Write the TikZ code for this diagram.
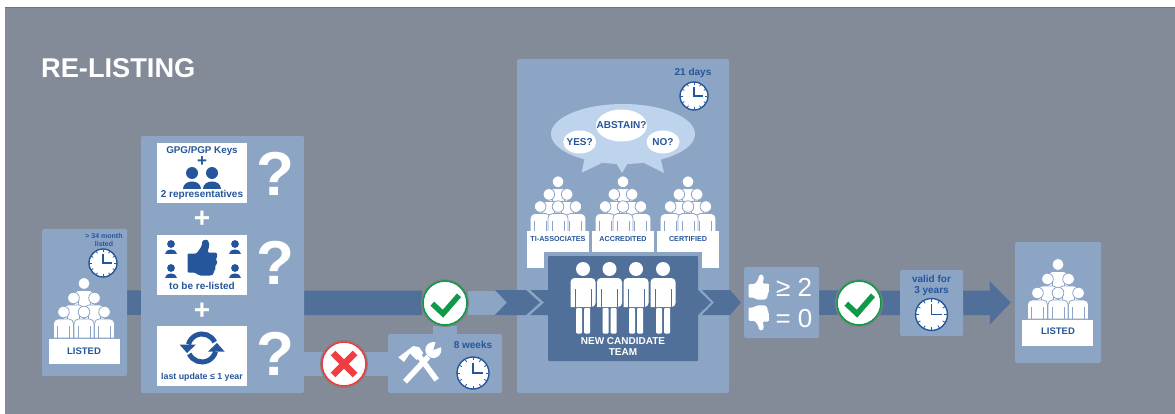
\documentclass[tikz,border=0pt]{standalone}
\usepackage{fontspec}
\setmainfont{Liberation Sans}
\usetikzlibrary{backgrounds}
\usetikzlibrary{shapes.geometric}
\usetikzlibrary{arrows.meta}
\definecolor{bggray}{HTML}{838A98}
\definecolor{panelblue}{HTML}{8CA5C5}
\definecolor{barblue}{HTML}{507099}
\definecolor{inkblue}{HTML}{25569B}
\definecolor{bubbleblue}{HTML}{BED3EC}
\definecolor{okgreen}{HTML}{0F9A4A}
\definecolor{nored}{HTML}{EF3E42}
\tikzset{
  panel/.style={fill=panelblue,rounded corners=1.5,inner sep=0},
  whitebox/.style={fill=white,inner sep=0},
  lbl/.style={text=inkblue,inner sep=0,align=center,font=\bfseries\fontsize{#1}{#1}\selectfont},
  wlbl/.style={text=white,inner sep=0,align=center,font=\bfseries\fontsize{#1}{#1}\selectfont},
  bigtxt/.style={text=white,inner sep=0,font=\fontsize{26}{26}\selectfont},
  badge/.style={circle,fill=white,draw=#1,line width=1.6,minimum size=44,inner sep=0,preaction={draw=gray!80!bggray,line width=4}},
  darkbar/.style={draw=barblue,line width=24.5},
  lightbar/.style={draw=panelblue,line width=24.5},
  clock/.pic={
    \filldraw[fill=white,draw=inkblue,line width=1.4] (0,0) circle[radius=10];
    \foreach \a in {0,30,...,330} \draw[inkblue,line width=.8] (\a:8) -- (\a:9.6);
    \draw[inkblue,line width=1.3] (0,-6.5) -- (0,0) -- (6.5,0);
  },
  person/.pic={
    \filldraw[fill=white,draw=panelblue,line width=.8] (0,0) circle[radius=5.8];
    \filldraw[fill=white,draw=panelblue,line width=.8] (-10,26) [rounded corners=4.5] -- (-10,7) -- (10,7) [sharp corners] -- (10,26) -- cycle;
    \draw[panelblue,line width=.8] (-6,14) -- (-6,26) (6,14) -- (6,26);
  },
  crowd/.pic={
    \pic at (0,5.5) {person};
    \pic at (-10.5,20) {person};
    \pic at (10.5,20) {person};
    \pic at (-20.5,34) {person};
    \pic at (20.5,34) {person};
    \pic at (0,34) {person};
  },
  teammate/.pic={
    \fill[white] (0,0) circle[radius=7];
    \fill[white] (-12.5,38) [rounded corners=4] -- (-12.5,9) -- (12.5,9) -- (12.5,38) [sharp corners] -- cycle;
    \draw[barblue,line width=1] (-8,20) -- (-8,38.5) (8,20) -- (8,38.5);
    \fill[white,rounded corners=1] (-7,39) rectangle (-1,64.5);
    \fill[white,rounded corners=1] (1,39) rectangle (7,64.5);
  },
  bust/.pic={
    \fill[inkblue] (0,0) circle[radius=6];
    \fill[inkblue] (-9,16) .. controls (-9,6) and (9,6) .. (9,16) -- cycle;
  },
  thumb/.pic={
    \fill[pic actions,rounded corners=1.2] (-15,-4) -- (-6,-4) -- (-1,-11) -- (0,-17) -- (5,-18) -- (7,-13) -- (5,-5) -- (14,-5) -- (15,-1) -- (13,2) -- (15,4) -- (13.5,8) -- (12,9) -- (13.5,11) -- (11,14) -- (11.5,16) -- (9,18) -- (-3,18) -- (-8,15) -- (-15,15) -- cycle;
  },
  refresh/.pic={
    \foreach \r in {0,180} {
      \begin{scope}[rotate=\r]
        \draw[inkblue,line width=5] (-25:14) arc (-25:-165:14);
        \fill[inkblue] (-22.5,-3.5) -- (-6,-3.5) -- (-15,5) -- cycle;
      \end{scope}
    }
  },
  tick/.pic={
    \draw[okgreen,line width=5.5] (-12.7,.7) -- (-2,10.7) -- (14,-7.7);
  },
  cross/.pic={
    \draw[nored,line width=6.5] (-11,-11) -- (11,11) (-11,11) -- (11,-11);
  },
  tools/.pic={
    \draw[white,line width=5.5] (-1.7,-9) -- (16.7,16);
    \fill[white] (-21.7,-6.7) -- (-6.7,-18) -- (-.7,-16.7) -- (3.3,-10.7) -- (-3.3,-4) -- (-10,-10.7) -- (-16,-2) -- cycle;
    \draw[white,line width=5.5] (-15,17.7) -- (8.3,-7.3);
    \fill[white] (13.3,-14) circle[radius=8];
    \fill[panelblue] (13.3,-14) -- (24,-18) -- (17,-26) -- cycle;
  },
}

\begin{document}
\begin{tikzpicture}[x=1pt,y=-1pt]
  \useasboundingbox (0,0) rectangle (1175,414);

  \node[panel,minimum width=85,minimum height=147] (listedA) at (84.5,302.5) {};
  \node[panel,minimum width=163,minimum height=257] (checks) at (222.5,264.5) {};
  \node[panel,minimum width=212,minimum height=334] (vote) at (623,226) {};
  \node[panel,minimum width=114,minimum height=59] (repair) at (445,363.5) {};
  \node[panel,minimum width=75,minimum height=71] (result) at (781.5,302.5) {};
  \node[panel,minimum width=63,minimum height=66] (valid) at (931.5,303) {};
  \node[panel,minimum width=86,minimum height=121] (listedB) at (1058,302.5) {};
  \node[badge=okgreen] (okA) at (445,303) {};
  \node[badge=nored] (noA) at (344,364) {};
  \node[badge=okgreen] (okB) at (859,303) {};
  \coordinate (tipA) at (495,303);

  \begin{scope}[on background layer]
    \fill[bggray] (5,7) rectangle (1175,414);
    \draw[barblue!70!bggray] (5,7) -- (1175,7);
    \draw[darkbar] (listedA) -- (okA);
    \draw[lightbar] (okA) -- (tipA);
    \draw[lightbar] (noA -| checks.east) -- (noA -| repair.west);
    \draw[lightbar] (repair) -- (okA);
    \draw[darkbar] (result) -- (valid);
    \draw[darkbar,-{Triangle[length=21,width=42]},shorten >=4] (valid) -- (listedB);
  \end{scope}
  \fill[panelblue] (495,290) -- (507,302.5) -- (495,315) -- cycle;

  \node[wlbl=27.2,anchor=west] (title) at (41,68) {RE-LISTING};

  \pic at (84,278) {crowd};
  \node[whitebox,minimum width=71,minimum height=25] (listedAbox) at (84.5,351.5) {};
  \node[lbl=9.5] (listedAtxt) at (84,351) {LISTED};
  \node[lbl=7] (monthtxt) at (104,239.5) {> 34 month\\[1pt]listed};
  \pic[scale=1.4] at (103,263) {clock};

  \node[whitebox,minimum width=90,minimum height=60] (keybox) at (202,173) {};
  \node[whitebox,minimum width=90,minimum height=60] (upbox) at (202,265) {};
  \node[whitebox,minimum width=90,minimum height=60] (lastbox) at (202,356) {};
  \node[lbl=9.8] (keytxt) at (202,150.5) {GPG/PGP Keys};
  \node[lbl=17] (keyplus) at (202,162) {+};
  \pic at (192,173) {bust};
  \pic at (212,173) {bust};
  \node[lbl=10] (reptxt) at (202,195) {2 representatives};
  \foreach \x in {171,235} {
    \pic[scale=.65] at (\x,244) {bust};
    \pic[scale=.65] at (\x,268) {bust};
  }
  \pic[fill=inkblue] at (202.5,257.5) {thumb};
  \node[lbl=10] (uptxt) at (202,285.5) {to be re-listed};
  \pic at (202,348) {refresh};
  \node[lbl=8.8] (lasttxt) at (202,377) {last update ≤ 1 year};
  \node[wlbl=62] (askA) at (275,174) {?};
  \node[wlbl=62] (askB) at (275,263) {?};
  \node[wlbl=62] (askC) at (275,354) {?};
  \node[wlbl=28] (plusA) at (202,219) {+};
  \node[wlbl=28] (plusB) at (202,311) {+};

  \pic at (okA) {tick};
  \pic at (noA) {cross};
  \pic at (420,364) {tools};
  \node[lbl=10] (weekstxt) at (473,345) {8 weeks};
  \pic[scale=1.6] at (473,373) {clock};

  \node[lbl=10] (daystxt) at (693,73) {21 days};
  \pic[scale=1.4] at (694,96) {clock};
  \node[ellipse,fill=bubbleblue,minimum width=144,minimum height=60,inner sep=0] (bubble) at (623,134) {};
  \fill[bubbleblue] (585,156) -- (581.7,172.7) -- (602,163) -- cycle;
  \fill[bubbleblue] (616,163) -- (622,173) -- (628,163) -- cycle;
  \fill[bubbleblue] (644,163) -- (664,173) -- (660,156) -- cycle;
  \node[ellipse,fill=white,minimum width=33,minimum height=23,inner sep=0] (yesell) at (579.7,142) {};
  \node[ellipse,fill=white,minimum width=51,minimum height=32,inner sep=0] (absell) at (621.5,125.5) {};
  \node[ellipse,fill=white,minimum width=33,minimum height=23,inner sep=0] (noell) at (663,142) {};
  \node[lbl=10] (yestxt) at (579.7,142) {YES?};
  \node[lbl=10] (abstxt) at (621.5,125.5) {ABSTAIN?};
  \node[lbl=10] (notxt) at (663,142) {NO?};

  \pic[scale=.87] at (558,177) {crowd};
  \pic[scale=.87] at (623,177) {crowd};
  \pic[scale=.87] at (688,177) {crowd};
  \node[whitebox,minimum width=62,minimum height=37] (tiBox) at (558,249) {};
  \node[whitebox,minimum width=62,minimum height=37] (acBox) at (623,249) {};
  \node[whitebox,minimum width=62,minimum height=37] (ceBox) at (688,249) {};
  \node[lbl=7.2] (tiTxt) at (558,239.5) {TI-ASSOCIATES};
  \node[lbl=7.2] (acTxt) at (623,239.5) {ACCREDITED};
  \node[lbl=7.2] (ceTxt) at (688,239.5) {CERTIFIED};
  \fill[panelblue] (544,252) rectangle (702,365);
  \fill[barblue] (495,290) -- (507,302.5) -- (495,315) -- (548,315) -- (548,290) -- cycle;
  \draw[panelblue,line width=2.5] (527,289) -- (542,302.5) -- (527,316);
  \fill[barblue,rounded corners=1] (548,256) rectangle (698,361);
  \fill[barblue] (698,290) -- (711,302.5) -- (698,315) -- cycle;
  \fill[barblue] (702,290) -- (730,290) -- (741,302.5) -- (730,315) -- (702,315) -- (714,302.5) -- cycle;
  \foreach \x in {583,609.5,636,663} \pic at (\x,269) {teammate};
  \node[wlbl=10] (teamtxt) at (623,347) {NEW CANDIDATE\\[1pt]TEAM};

  \pic[fill=white,scale=.7] at (759,287) {thumb};
  \pic[fill=white,scale=.7,yscale=-1] at (759,318) {thumb};
  \node[bigtxt] (moretxt) at (794,287) {≥ 2};
  \node[bigtxt] (zerotxt) at (794,319) {= 0};
  \pic at (okB) {tick};
  \node[lbl=10] (validtxt) at (931.5,285) {valid for\\[1pt]3 years};
  \pic[scale=1.6] at (931.5,314.5) {clock};

  \pic at (1058,259) {crowd};
  \node[whitebox,minimum width=71,minimum height=26] (listedBbox) at (1057.5,333) {};
  \node[lbl=9.5] (listedBtxt) at (1058,331.5) {LISTED};
\end{tikzpicture}
\end{document}
